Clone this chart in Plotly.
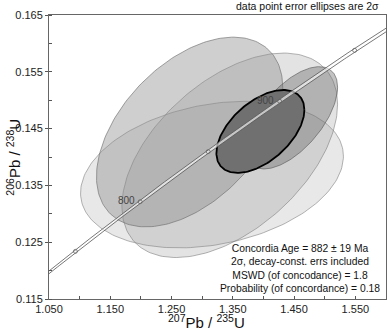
import numpy as np
import plotly.graph_objects as go

# ---- data (2-sigma error ellipses): centre, half-widths, correlation ----
ell_names = ["C", "B", "A", "D", "Concordia"]
ell_x = [1.316, 1.345, 1.2795, 1.446, 1.395]
ell_y = [0.1369, 0.1403, 0.1444, 0.1469, 0.1445]
ell_sx = [0.2145, 0.176, 0.152, 0.075, 0.0718]
ell_sy = [0.0129, 0.0180, 0.0167, 0.0090, 0.0073]
ell_rho = [0.25, 0.5, 0.47, 0.6, 0.52]
ell_fill = ["rgba(140,140,140,0.20)", "rgba(140,140,140,0.24)", "rgba(140,140,140,0.42)",
            "rgba(110,110,110,0.42)", "rgb(112,112,112)"]
ell_line = ["rgba(120,120,120,0.7)", "rgba(120,120,120,0.7)", "rgba(110,110,110,0.8)",
            "rgba(90,90,90,0.8)", "black"]
ell_width = [0.8, 0.8, 0.8, 0.8, 1.8]

# concordia constants
lam238 = 1.55125e-10
lam235 = 9.8485e-10
lam235_err = 0.002     # envelope half width (relative)
age_marks = [750, 800, 850, 900, 950]
age_labels = [800, 900]

x_ticks = [1.05, 1.15, 1.25, 1.35, 1.45, 1.55]
y_ticks = [0.115, 0.125, 0.135, 0.145, 0.155, 0.165]

fig = go.Figure()

th = np.linspace(0, 2 * np.pi, 200)
for cx, cy, sx, sy, r, fc, lc, w in zip(ell_x, ell_y, ell_sx, ell_sy, ell_rho,
                                       ell_fill, ell_line, ell_width):
    xs = cx + sx * np.cos(th)
    ys = cy + sy * (r * np.cos(th) + np.sqrt(1 - r * r) * np.sin(th))
    fig.add_trace(go.Scatter(x=xs, y=ys, mode="lines", fill="toself",
                             fillcolor=fc, line=dict(color=lc, width=w),
                             hoverinfo="skip", showlegend=False))

# concordia band
t = np.linspace(650e6, 1050e6, 300)
yc = np.exp(lam238 * t) - 1
xlo = np.exp(lam235 * (1 - lam235_err) * t) - 1
xhi = np.exp(lam235 * (1 + lam235_err) * t) - 1
fig.add_trace(go.Scatter(x=np.concatenate([xlo, xhi[::-1], xlo[:1]]),
                         y=np.concatenate([yc, yc[::-1], yc[:1]]),
                         mode="lines", fill="toself",
                         fillcolor="rgba(255,255,255,0.6)",
                         line=dict(color="#555", width=0.8),
                         hoverinfo="skip", showlegend=False))

ta = np.array(age_marks) * 1e6
fig.add_trace(go.Scatter(x=np.exp(lam235 * ta) - 1, y=np.exp(lam238 * ta) - 1,
                         mode="markers",
                         marker=dict(symbol="circle-open", size=4,
                                     color="#666", line=dict(width=0.8)),
                         hoverinfo="skip", showlegend=False))

for a in age_labels:
    fig.add_annotation(x=np.exp(lam235 * a * 1e6) - 1, y=np.exp(lam238 * a * 1e6) - 1,
                       text=str(a), showarrow=False, xshift=-14, yshift=1,
                       font=dict(size=10, color="#444"))

fig.add_annotation(xref="paper", yref="paper", x=0.985, y=1.032,
                   xanchor="right", yanchor="middle", showarrow=False,
                   text="data point error ellipses are 2σ",
                   font=dict(size=10.5, color="#111"))

fig.add_annotation(xref="paper", yref="paper", x=0.745, y=0.109,
                   xanchor="center", yanchor="middle", showarrow=False, align="center",
                   text="Concordia Age = 882 ± 19 Ma<br>2σ, decay-const. errs included"
                        "<br>MSWD (of concodance) = 1.8<br>Probability (of concordance) = 0.18",
                   font=dict(size=10.3, color="#111"))

fig.add_annotation(xref="paper", yref="paper", x=0.466, y=-0.118,
                   xanchor="center", yanchor="bottom", showarrow=False,
                   text="<sup>207</sup>Pb / <sup>235</sup>U",
                   font=dict(size=15, color="#111"))
fig.add_annotation(xref="paper", yref="paper", x=-0.142, y=0.5,
                   xanchor="left", yanchor="middle", showarrow=False, textangle=-90,
                   text="<sup>206</sup>Pb / <sup>238</sup>U",
                   font=dict(size=15, color="#111"))

fig.update_xaxes(range=[1.05, 1.60], tickvals=x_ticks,
                 ticktext=[f"{v:.3f}" for v in x_ticks],
                 ticks="inside", ticklen=3, tickcolor="#555",
                 minor=dict(dtick=0.05, tick0=1.05, ticks="inside", ticklen=3, tickcolor="#555"),
                 showline=True, linecolor="#666", linewidth=1, mirror=True,
                 showgrid=False, zeroline=False,
                 tickfont=dict(size=11, color="#222"))
fig.update_yaxes(range=[0.115, 0.165], tickvals=y_ticks,
                 ticktext=[f"{v:.3f}" for v in y_ticks],
                 ticks="outside", ticklen=3, tickcolor="#555",
                 minor=dict(dtick=0.005, tick0=0.115, ticks="inside", ticklen=3, tickcolor="#555"),
                 showline=True, linecolor="#666", linewidth=1, mirror=True,
                 showgrid=False, zeroline=False,
                 tickfont=dict(size=11, color="#222"))

fig.update_layout(width=387, height=331,
                  margin=dict(l=49, r=1, t=15, b=32),
                  plot_bgcolor="white", paper_bgcolor="white",
                  font=dict(family="Liberation Sans, Arial, sans-serif"),
                  showlegend=False)

fig.write_html("out.html", config={"displayModeBar": False},
               post_script="document.body.style.margin='0';")
